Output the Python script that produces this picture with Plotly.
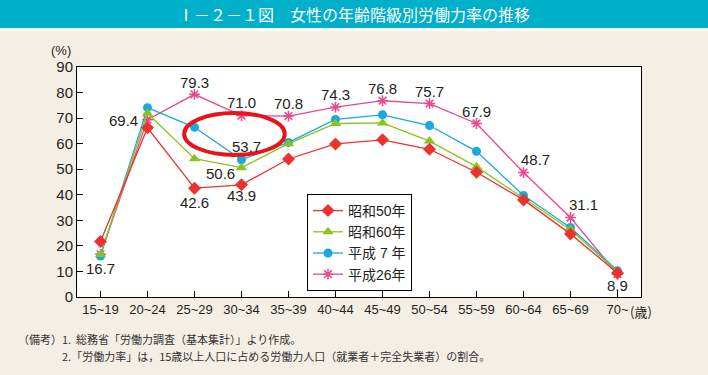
import plotly.graph_objects as go

# ---- data ----
categories = ["15~19", "20~24", "25~29", "30~34", "35~39", "40~44", "45~49",
              "50~54", "55~59", "60~64", "65~69", "70~"]
s50 = [21.7, 66.2, 42.6, 43.9, 54.0, 59.9, 61.5, 57.8, 48.8, 38.0, 24.7, 9.4]
s60 = [16.6, 71.9, 54.1, 50.6, 60.0, 67.9, 68.1, 61.0, 51.0, 38.5, 26.3, 9.9]
h07 = [16.0, 74.1, 66.4, 53.7, 60.5, 69.5, 71.3, 67.1, 57.0, 39.7, 27.2, 10.3]
h26 = [16.7, 69.4, 79.3, 71.0, 70.8, 74.3, 76.8, 75.7, 67.9, 48.7, 31.1, 8.9]
series_names = ["昭和50年", "昭和60年", "平成 7 年", "平成26年"]
y_ticks = [0, 10, 20, 30, 40, 50, 60, 70, 80, 90]

title_text = "Ⅰ－２－１図　女性の年齢階級別労働力率の推移"
note_head = "（備考）"
note_1 = "1.  総務省「労働力調査（基本集計）」より作成。"
note_2 = "2.「労働力率」は，15歳以上人口に占める労働力人口（就業者＋完全失業者）の割合。"

# labels: (series index, category index, xshift, yshift)
label_specs = [
    (3, 0, 0, -14), (3, 1, -24, -1), (3, 2, 0, 12), (3, 3, 0, 13), (3, 4, 0, 13),
    (3, 5, 0, 13), (3, 6, 0, 12), (3, 7, 0, 12), (3, 8, 0, 12), (3, 9, 12, 13),
    (3, 10, 13, 13), (3, 11, 0, -11),
    (2, 3, 5, 13), (1, 3, -21, -6), (0, 2, 0, -14), (0, 3, 0, -11),
]
# highlight ellipse in data units (category index, value)
ellipse = dict(x0=1.78, x1=3.92, y0=55.6, y1=72.0)

# ---- style ----
colors = ["#E8332E", "#8CC220", "#1AA8E0", "#E8498E"]
symbols = ["diamond", "triangle-up", "circle", "asterisk-open"]
msizes = [10, 10, 9, 9]
all_series = [s50, s60, h07, h26]

L, R, T, B = 77, 67, 67, 78
W, H = 708, 375
pw, ph = W - L - R, H - T - B

def px_x(px):
    return (px - L) / pw

def px_y(py):
    return (H - B - py) / ph

fig = go.Figure()
for i in [3, 2, 1, 0]:
    fig.add_trace(go.Scatter(
        x=categories, y=all_series[i], name=series_names[i], mode="lines+markers",
        line=dict(color=colors[i], width=1.3),
        marker=dict(symbol=symbols[i], size=msizes[i], color=colors[i],
                    line=dict(color=colors[i], width=1.5 if i == 3 else 0)),
    ))

annotations = []
for si, ci, dx, dy in label_specs:
    annotations.append(dict(
        x=categories[ci], y=all_series[si][ci], xref="x", yref="y",
        xanchor="center", yanchor="middle",
        text=f"{all_series[si][ci]:.1f}", showarrow=False, xshift=dx, yshift=dy,
        font=dict(size=15, color="#231F20", family="Liberation Sans, Arial")))

def paper_text(x, y, text, size, color, family, xanchor="center"):
    return dict(x=px_x(x), xref="paper", y=px_y(y), yref="paper", text=text,
                showarrow=False, xanchor=xanchor, yanchor="middle",
                font=dict(size=size, color=color, family=family))

annotations += [
    paper_text(354, 14, title_text, 16, "white", "Noto Sans CJK JP"),
    paper_text(61, 50, "(%)", 13, "#231F20", "Liberation Sans, Arial"),
    paper_text(641, 311, "(歳)", 13, "#231F20", "Noto Sans CJK JP"),
    paper_text(16, 339, note_head, 11, "#333", "Noto Sans CJK JP", "left"),
    paper_text(60, 339, note_1, 11, "#333", "Noto Sans CJK JP", "left"),
    paper_text(60, 356, note_2, 11, "#333", "Noto Sans CJK JP", "left"),
]

shapes = [
    dict(type="rect", xref="paper", yref="paper", x0=px_x(0), x1=px_x(W), y0=px_y(28), y1=px_y(0),
         fillcolor="#00AFC9", line=dict(width=0), layer="below"),
    dict(type="rect", xref="paper", yref="paper", x0=px_x(0), x1=px_x(W), y0=px_y(31), y1=px_y(28),
         fillcolor="#FFFFFF", line=dict(width=0), layer="below"),
    dict(type="circle", xref="x", yref="y", line=dict(color="#E8141B", width=4), **ellipse),
]

fig.update_layout(
    width=W, height=H, margin=dict(l=L, r=R, t=T, b=B),
    paper_bgcolor="#F4EFE4", plot_bgcolor="white",
    showlegend=True,
    legend=dict(x=px_x(307), y=px_y(194), xanchor="left", yanchor="top",
                bgcolor="white", bordercolor="black", borderwidth=1,
                traceorder="reversed",
                font=dict(size=14, color="#231F20", family="Liberation Sans, Noto Sans CJK JP")),
    annotations=annotations, shapes=shapes,
    xaxis=dict(type="category", range=[-0.5, 11.5], showline=True, linecolor="black",
               linewidth=1, mirror=True, ticks="inside", ticklen=6, tickcolor="black",
               showgrid=False, tickfont=dict(size=13, color="#231F20", family="Liberation Sans, Arial")),
    yaxis=dict(range=[0, 90], tickvals=y_ticks, showline=True, linecolor="black", linewidth=1,
               mirror=True, ticks="inside", ticklen=6, tickcolor="black", showgrid=False,
               zeroline=False, tickfont=dict(size=15, color="#231F20", family="Liberation Sans, Arial")),
)

fig.write_html("out.html", config={"displayModeBar": False},
               post_script="document.body.style.margin='0';document.body.style.overflow='hidden';")
